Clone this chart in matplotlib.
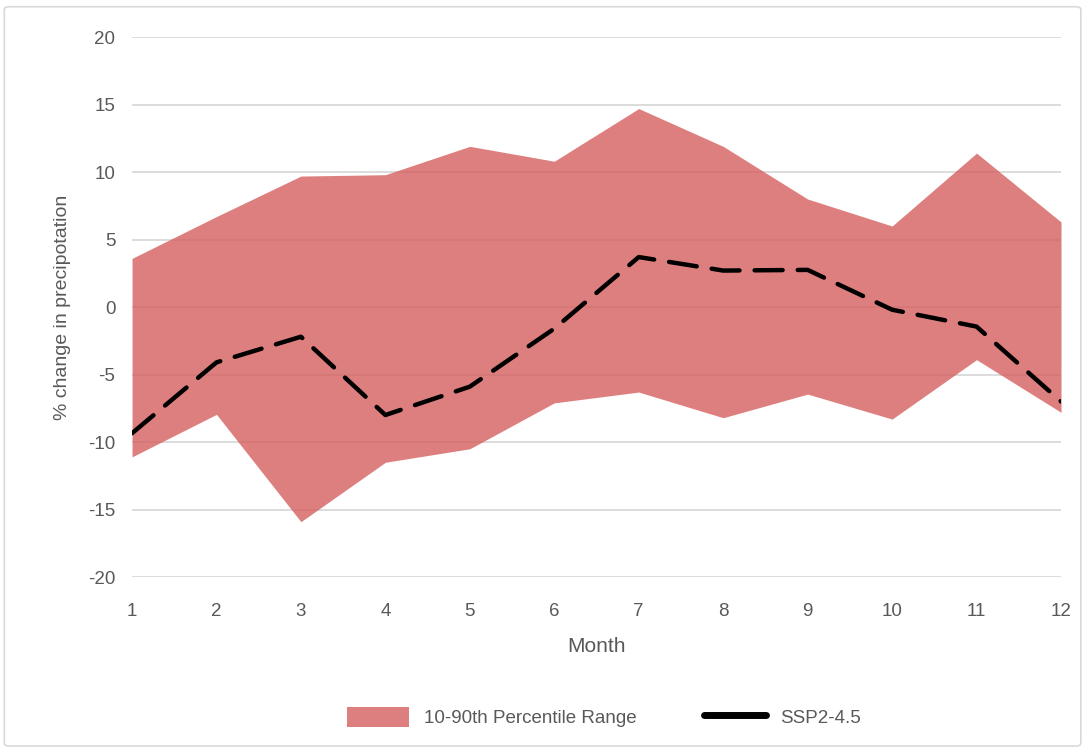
import matplotlib.pyplot as plt
from matplotlib.patches import FancyBboxPatch, Patch
from matplotlib.lines import Line2D

# monthly change in precipitation (%)
months = [1, 2, 3, 4, 5, 6, 7, 8, 9, 10, 11, 12]
p90 = [3.6, 6.7, 9.7, 9.8, 11.9, 10.8, 14.7, 11.9, 8.0, 6.0, 11.4, 6.3]
p10 = [-11.1, -7.95, -15.9, -11.5, -10.5, -7.1, -6.3, -8.2, -6.45, -8.3, -3.9, -7.8]
ssp245 = [-9.35, -4.1, -2.2, -8.0, -5.9, -1.6, 3.7, 2.7, 2.75, -0.2, -1.45, -7.0]
y_ticks = [-20, -15, -10, -5, 0, 5, 10, 15, 20]

plt.rcParams['font.family'] = ['Liberation Sans', 'DejaVu Sans']
plt.rcParams['axes.unicode_minus'] = False
text_col = '#595959'
fill_col = '#d65f5f'

fig = plt.figure(figsize=(10.83, 7.49), dpi=100)
ax = fig.add_axes([0.1219, 0.2296, 0.9797 - 0.1219, 0.9506 - 0.2296])

# light border round the whole chart
fig.patches.append(FancyBboxPatch((0.004, 0.004), 0.994, 0.987, boxstyle='round,pad=0,rounding_size=0.004',
                                  transform=fig.transFigure, fill=False, edgecolor='#d9d9d9', linewidth=1.2))

ax.fill_between(months, p10, p90, color=fill_col, alpha=0.8, linewidth=0, zorder=2)
ax.plot(months, ssp245, color='black', linewidth=3.2, dashes=(6.3, 3.4),
        dash_capstyle='round', solid_joinstyle='round', zorder=3)

ax.set_xlim(1, 12)
ax.set_ylim(-20, 20)
ax.set_xticks(months)
ax.set_yticks(y_ticks)
ax.grid(axis='y', color='#d9d9d9', linewidth=1.3, zorder=1)
ax.set_axisbelow(True)
for s in ax.spines.values():
    s.set_visible(False)
ax.tick_params(length=0, labelsize=13.5, labelcolor=text_col)
ax.tick_params(axis='y', pad=12)
ax.tick_params(axis='x', pad=19)

ax.set_xlabel('Month', fontsize=15, color=text_col, labelpad=12)
ax.set_ylabel('% change in precipotation', fontsize=14, color=text_col, labelpad=12)

handles = [Patch(facecolor=fill_col, alpha=0.8, edgecolor='none'),
           Line2D([], [], color='black', linewidth=5, solid_capstyle='round')]
labels = ['10-90th Percentile Range', 'SSP2-4.5']
fig.legend(handles, labels, loc='center', bbox_to_anchor=(604 / 1083, 1 - 717 / 749), ncol=2, frameon=False,
           fontsize=13.5, labelcolor=text_col, handlelength=3.3, handleheight=1.3, columnspacing=3.6,
           handletextpad=0.8)

fig.savefig('out.png', dpi=100)
